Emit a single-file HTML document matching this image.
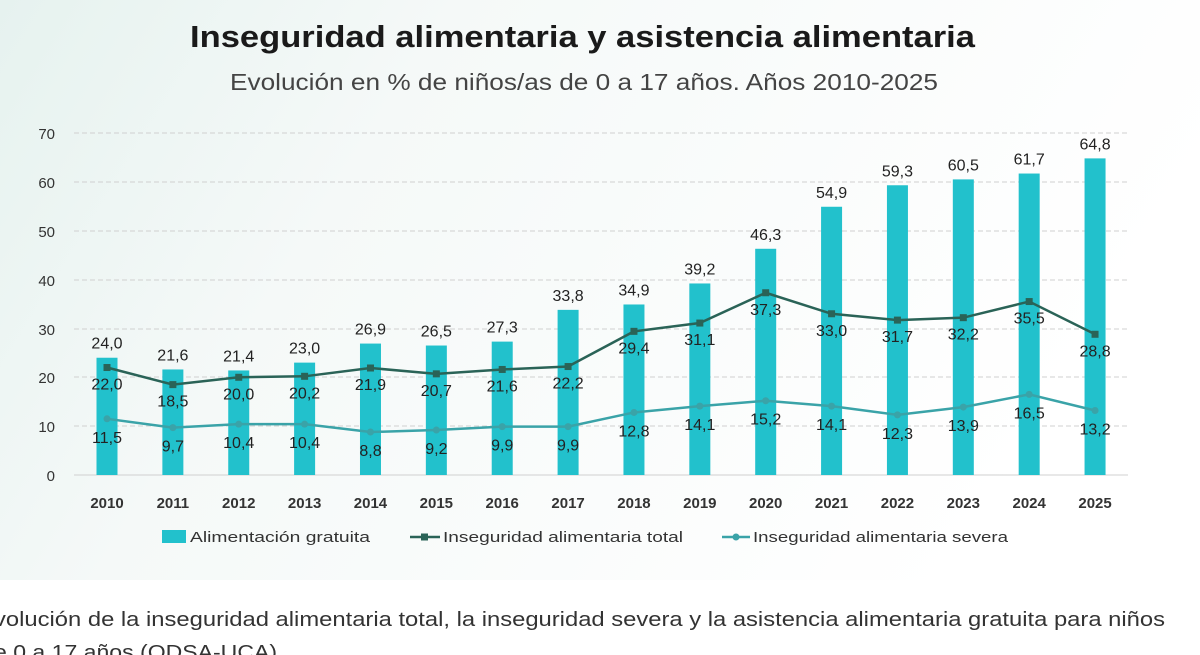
<!DOCTYPE html>
<html><head><meta charset="utf-8"><style>
body{margin:0;width:1200px;height:655px;overflow:hidden;background:#fff;font-family:"Liberation Sans",sans-serif}
</style></head><body>
<svg width="1200" height="655" xmlns="http://www.w3.org/2000/svg" style="position:absolute;left:0;top:0">
<defs><linearGradient id="bg" x1="0" y1="0" x2="1" y2="0.3">
<stop offset="0" stop-color="#e6f2ef"/><stop offset="0.35" stop-color="#f5f9f8"/><stop offset="1" stop-color="#ffffff"/></linearGradient></defs>
<rect x="0" y="0" width="1200" height="580" fill="url(#bg)"/>
<text x="190" y="47" textLength="785" lengthAdjust="spacingAndGlyphs" font-size="31" font-weight="bold" fill="#1a1a1a">Inseguridad alimentaria y asistencia alimentaria</text>
<text x="230" y="90" textLength="708" lengthAdjust="spacingAndGlyphs" font-size="23" fill="#444">Evolución en % de niños/as de 0 a 17 años. Años 2010-2025</text>
<g stroke="#d0d0d0" stroke-dasharray="5,3" stroke-width="1">
<line x1="74" x2="1128" y1="133" y2="133"/><line x1="74" x2="1128" y1="182" y2="182"/><line x1="74" x2="1128" y1="231" y2="231"/><line x1="74" x2="1128" y1="280" y2="280"/><line x1="74" x2="1128" y1="329" y2="329"/><line x1="74" x2="1128" y1="377" y2="377"/><line x1="74" x2="1128" y1="426" y2="426"/></g>
<line x1="74" x2="1128" y1="475" y2="475" stroke="#d0d0d0"/>
<g font-size="15" fill="#333" text-anchor="end">
<text x="55" y="139">70</text><text x="55" y="188">60</text><text x="55" y="237">50</text><text x="55" y="286">40</text><text x="55" y="335">30</text><text x="55" y="383">20</text><text x="55" y="432">10</text><text x="55" y="481">0</text></g>
<g id="c"></g>
<text x="-6" y="626" textLength="1171" lengthAdjust="spacingAndGlyphs" font-size="20" fill="#333">volución de la inseguridad alimentaria total, la inseguridad severa y la asistencia alimentaria gratuita para niños</text>
<text x="-6" y="659" textLength="283" lengthAdjust="spacingAndGlyphs" font-size="20" fill="#333">e 0 a 17 años (ODSA-UCA)</text>
</svg>
<script>
var A=[24.0,21.6,21.4,23.0,26.9,26.5,27.3,33.8,34.9,39.2,46.3,54.9,59.3,60.5,61.7,64.8];
var T=[22.0,18.5,20.0,20.2,21.9,20.7,21.6,22.2,29.4,31.1,37.3,33.0,31.7,32.2,35.5,28.8];
var S=[11.5,9.7,10.4,10.4,8.8,9.2,9.9,9.9,12.8,14.1,15.2,14.1,12.3,13.9,16.5,13.2];
function X(i){return 107+65.87*i}function Y(v){return 475-v*4.886}
var f=function(n){return n.toFixed(1).replace('.',',')};
var s='';
for(var i=0;i<16;i++){s+='<rect x="'+(X(i)-10.5)+'" y="'+Y(A[i])+'" width="21" height="'+(A[i]*4.886)+'" fill="#22c1cc"/>';}
var pt=T.map(function(v,i){return X(i)+','+Y(v)}).join(' ');
var ps=S.map(function(v,i){return X(i)+','+Y(v)}).join(' ');
s+='<polyline points="'+ps+'" fill="none" stroke="#3aa3a8" stroke-width="2.5"/>';
s+='<polyline points="'+pt+'" fill="none" stroke="#2a6357" stroke-width="2.5"/>';
for(var i=0;i<16;i++){
s+='<circle cx="'+X(i)+'" cy="'+Y(S[i])+'" r="3.5" fill="#3aa3a8"/>';
s+='<rect x="'+(X(i)-3.5)+'" y="'+(Y(T[i])-3.5)+'" width="7" height="7" fill="#2a6357"/>';
s+='<text x="'+X(i)+'" y="'+(Y(A[i])-9)+'" text-anchor="middle" font-size="16" fill="#222">'+f(A[i])+'</text>';
s+='<text x="'+X(i)+'" y="'+(Y(T[i])+22)+'" text-anchor="middle" font-size="16" fill="#222">'+f(T[i])+'</text>';
s+='<text x="'+X(i)+'" y="'+(Y(S[i])+24)+'" text-anchor="middle" font-size="16" fill="#222">'+f(S[i])+'</text>';
s+='<text x="'+X(i)+'" y="508" text-anchor="middle" font-size="15" font-weight="bold" fill="#333">'+(2010+i)+'</text>';}
s+='<rect x="162" y="530" width="24" height="13" fill="#22c1cc"/><text x="190" y="542" textLength="180" lengthAdjust="spacingAndGlyphs" font-size="15" fill="#333">Alimentación gratuita</text>';
s+='<line x1="410" x2="440" y1="537" y2="537" stroke="#2a6357" stroke-width="2.5"/><rect x="421" y="533.5" width="7" height="7" fill="#2a6357"/><text x="443" y="542" textLength="240" lengthAdjust="spacingAndGlyphs" font-size="15" fill="#333">Inseguridad alimentaria total</text>';
s+='<line x1="722" x2="750" y1="537" y2="537" stroke="#3aa3a8" stroke-width="2.5"/><circle cx="736" cy="537" r="3.5" fill="#3aa3a8"/><text x="753" y="542" textLength="255" lengthAdjust="spacingAndGlyphs" font-size="15" fill="#333">Inseguridad alimentaria severa</text>';
document.getElementById('c').innerHTML=s;
</script>
</body></html>
